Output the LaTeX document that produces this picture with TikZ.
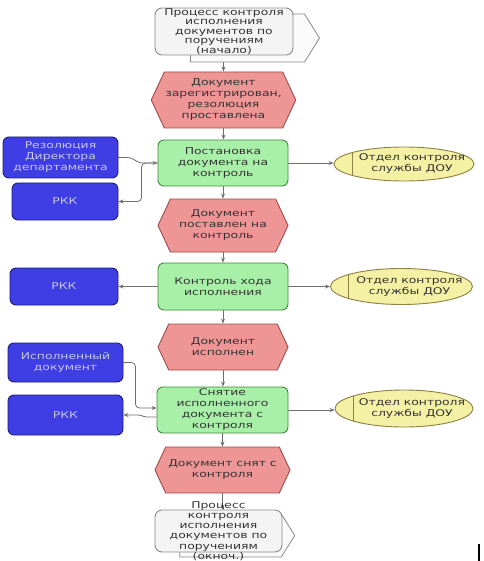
\documentclass[tikz,border=0pt]{standalone}
\usepackage{fontspec}
\setmainfont{DejaVu Sans}[FakeStretch=1.33]
\usetikzlibrary{shapes.symbols,shapes.geometric,arrows.meta,calc}
\definecolor{evfill}{HTML}{EE9696}
\definecolor{evdraw}{HTML}{A04A4A}
\definecolor{fnfill}{HTML}{A8F0A8}
\definecolor{fndraw}{HTML}{3C8C3C}
\definecolor{blfill}{HTML}{3E3EE4}
\definecolor{bldraw}{HTML}{1C1C80}
\definecolor{bltext}{HTML}{C8C8E4}
\definecolor{ylfill}{HTML}{F4F0A4}
\definecolor{yldraw}{HTML}{8C8044}
\definecolor{txt}{HTML}{333333}
\definecolor{lnk}{HTML}{6E6E6E}
\definecolor{pifill}{HTML}{F4F4F4}
\definecolor{pibfill}{HTML}{FAFAFA}
\definecolor{pidraw}{HTML}{8A8A8A}
\pgfdeclarelayer{bg}
\pgfsetlayers{bg,main}
\begin{document}
\begin{tikzpicture}[x=1pt,y=-1pt,
 base/.style={align=center, font=\fontsize{9.3}{11}\selectfont, text=txt, inner sep=1pt, line width=0.9pt},
 evt/.style={base, shape=signal, signal to=east and west, signal pointer angle=130, fill=evfill, draw=evdraw},
 fn/.style={base, rectangle, rounded corners=6pt, fill=fnfill, draw=fndraw},
 ob/.style={base, rectangle, rounded corners=6pt, fill=blfill, draw=bldraw, text=bltext},
 og/.style={base, ellipse, fill=ylfill, draw=yldraw, inner sep=0pt,
   path picture={\draw[yldraw, line width=0.9pt] ([xshift=18pt]path picture bounding box.north west) -- ([xshift=18pt]path picture bounding box.south west);}},
 pif/.style={base, rectangle, rounded corners=7pt, fill=pifill, draw=pidraw},
 pib/.style={shape=signal, signal to=east, signal pointer angle=116, fill=pibfill, draw=pidraw, line width=0.8pt, inner sep=0pt},
 arr/.style={draw=lnk, line width=0.8pt, -{Stealth[length=5pt,width=4pt]}},
]
\useasboundingbox (0,0) rectangle (483,561);

% process interface (start)
\node[pib, minimum width=129pt, minimum height=48pt] (p1b) at (247.5,38) {};
\node[pif, minimum width=138pt, minimum height=47pt, font=\fontsize{9.3}{9.4}\selectfont, inner ysep=0pt] (p1f) at (224,31.5) {Процесс контроля\\исполнения\\документов по\\поручениям\\(начало)};

\node[evt, minimum width=143pt, minimum height=56pt] (h1) at (223.5,100) {Документ\\зарегистрирован,\\резолюция\\проставлена};
\node[fn, minimum width=130pt, minimum height=46pt] (g1) at (223,163) {Постановка\\документа на\\контроль};
\node[ob, minimum width=115pt, minimum height=41pt] (rez) at (60.5,157.5) {Резолюция\\Директора\\департамента};
\node[ob, minimum width=106pt, minimum height=37pt] (rkk1) at (65,201.5) {РКК};
\node[og, minimum width=140pt, minimum height=34pt] (e1) at (404,164) {};
\node[base] (e1t) at ([xshift=8pt]e1.center) {Отдел контроля\\службы ДОУ};

\node[evt, minimum width=130pt, minimum height=53pt] (h2) at (223,225.5) {Документ\\поставлен на\\контроль};
\node[fn, minimum width=130pt, minimum height=47pt] (g2) at (223,286.5) {Контроль хода\\исполнения};
\node[ob, minimum width=108pt, minimum height=37pt] (rkk2) at (64,286.5) {РКК};
\node[og, minimum width=142pt, minimum height=36pt] (e2) at (401.5,286.5) {};
\node[base] (e2t) at ([xshift=8pt]e2.center) {Отдел контроля\\службы ДОУ};

\node[evt, minimum width=130pt, minimum height=46pt] (h3) at (223,347) {Документ\\исполнен};
\node[ob, minimum width=115pt, minimum height=39pt] (isp) at (65.5,362.5) {Исполненный\\документ};
\node[ob, minimum width=115pt, minimum height=40pt] (rkk3) at (65.5,415) {РКК};
\node[fn, minimum width=131pt, minimum height=46pt] (g3) at (222.5,410) {Снятие\\исполненного\\документа с\\контроля};
\node[og, minimum width=138pt, minimum height=37pt] (e3) at (404,408.5) {};
\node[base] (e3t) at ([xshift=8pt]e3.center) {Отдел контроля\\службы ДОУ};

\node[evt, minimum width=135pt, minimum height=46pt] (h4) at (222.5,470) {Документ снят с\\контроля};

% process interface (end)
\node[pib, minimum width=115pt, minimum height=43pt] (p2b) at (230.5,535.5) {};
\node[pif, minimum width=127pt, minimum height=42pt, font=\fontsize{9.3}{10.2}\selectfont, inner ysep=-9.5pt] (p2f) at (218.5,531) {Процесс\\контроля\\исполнения\\документов по\\поручениям\\(окноч.)};

% text cursor mark
\draw[black, line width=1.6pt] (479,544) -- (479,561);

\begin{pgfonlayer}{bg}
\draw[arr] (h1.north |- p1b.south) -- (h1.north);
\draw[arr] (h1.south) -- (h1.south |- g1.north);
\draw[arr] (g1.south) -- (h2.north);
\draw[arr] (h2.south) -- (h2.south |- g2.north);
\draw[arr] (g2.south) -- (h3.north);
\draw[arr] (h3.south) -- (h3.south |- g3.north);
\draw[arr] (g3.south) -- (g3.south |- h4.north);
\draw[arr] (h4.south) -- (h4.south |- p2f.north);

\draw[arr] (g1.east) -- (e1.west |- g1.east);
\draw[arr] (g2.east) -- (e2.west);
\draw[arr] (g3.east) -- (e3.west |- g3.east);

\draw[arr, rounded corners=3pt] (rez.east) -- ++(12,0) -- ([xshift=-18pt]g1.west) -- (g1.west);
\draw[arr, rounded corners=4pt] (g1.west) -- ++(-16,0) |- (rkk1.east);
\draw[arr] (g2.west) -- (rkk2.east);
\draw[arr, rounded corners=4pt] (isp.east) -- ++(12,0) |- ([yshift=2pt]g3.west);
\draw[arr, rounded corners=2pt] ([yshift=-7pt]g3.west) -- ++(-12,0) -- ([xshift=17pt]rkk3.east) -- (rkk3.east);
\end{pgfonlayer}
\end{tikzpicture}
\end{document}
